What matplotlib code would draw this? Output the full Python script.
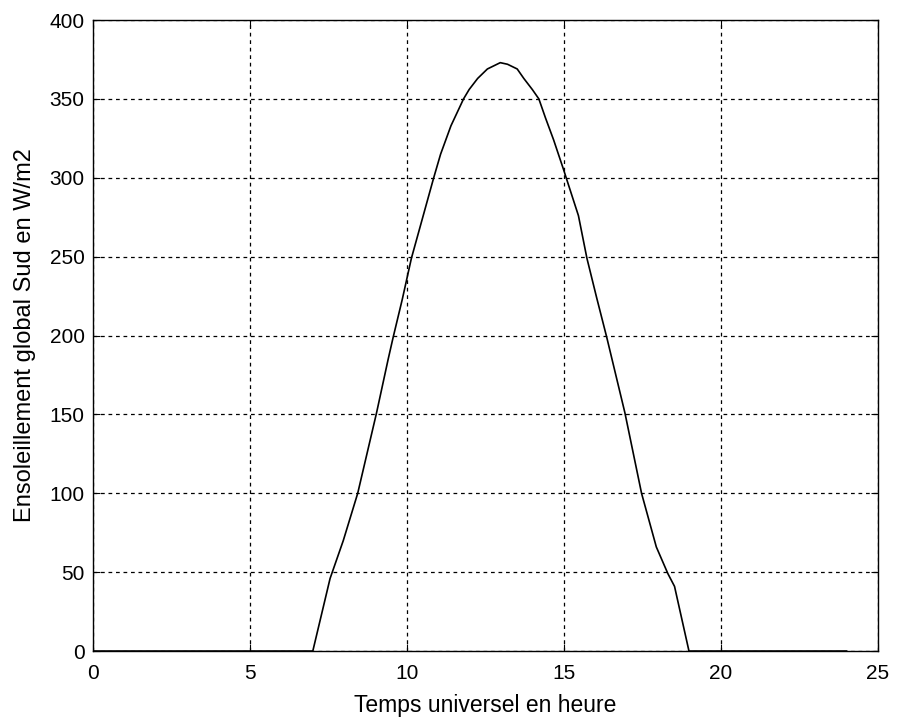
import matplotlib
matplotlib.use("Agg")
import matplotlib.pyplot as plt

plt.rcParams['font.family'] = ['Liberation Sans', 'DejaVu Sans']

# Global irradiance on a south-facing surface
hours = [0, 7.0, 7.55, 7.97, 8.43, 9.03, 9.40, 9.56, 9.85, 10.14, 10.85, 11.07,
         11.40, 11.80, 11.98, 12.25, 12.56, 12.97, 13.20, 13.51, 13.72, 13.99,
         14.20, 14.41, 14.67, 14.99, 15.07, 15.46, 15.73, 16.04, 16.36, 16.94,
         17.47, 17.94, 18.31, 18.52, 18.98, 24.0]
irradiance = [0, 0, 46, 70, 100, 151, 185, 199, 223, 249, 300, 315,
              333, 350, 356, 363, 369, 373, 372, 369, 363, 356,
              350, 338, 324, 305, 300, 276, 249, 224, 199, 151,
              100, 66, 49, 41, 0, 0]

x_ticks = [0, 5, 10, 15, 20, 25]
y_ticks = [0, 50, 100, 150, 200, 250, 300, 350, 400]

fig = plt.figure(figsize=(8.97, 7.17), dpi=100)
ax = fig.add_axes([0.1037, 0.092, 0.8751, 0.880])

ax.plot(hours, irradiance, color='black', linewidth=1.2)
ax.set_xlim(0, 25)
ax.set_ylim(0, 400)
ax.set_xticks(x_ticks)
ax.set_yticks(y_ticks)
ax.tick_params(direction='in', labelsize=15, length=5, color='black',
               top=True, right=True)
ax.tick_params(axis='x', pad=9)
ax.tick_params(axis='y', pad=6)
ax.grid(True, color='black', linestyle=(0, (3, 3)), linewidth=0.9)
for s in ax.spines.values():
    s.set_linewidth(1.0)

ax.set_xlabel("Temps universel en heure", fontsize=16.5, labelpad=8)
ax.set_ylabel("Ensoleillement global Sud en W/m2", fontsize=17, labelpad=10)

plt.savefig('out.png', dpi=100)
